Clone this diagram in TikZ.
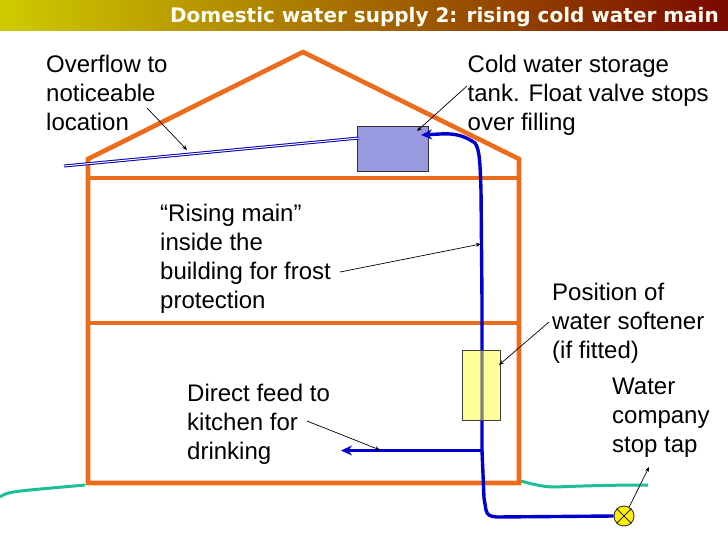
\documentclass[tikz,border=0pt]{standalone}
\usepackage{fontspec}
\setmainfont{Liberation Sans}
\newfontfamily\titlefont{DejaVu Sans}
\usetikzlibrary{arrows.meta}
\definecolor{wall}{RGB}{236,108,28}
\definecolor{pipe}{RGB}{0,0,204}
\definecolor{soil}{RGB}{30,190,155}
\definecolor{tankfill}{RGB}{153,153,224}
\tikzset{
  x=1pt,y=-1pt,
  lbl/.style={font=\fontsize{24}{29}\selectfont,align=left,inner sep=0pt,anchor=base west,text=black},
  wallline/.style={draw=wall,line width=4.6pt,line join=miter},
  pipeline/.style={draw=pipe,line width=3.4pt,line join=round},
  soilline/.style={draw=soil,line width=3pt},
  pointer/.style={draw=black,line width=0.7pt,-{Stealth[length=5pt,width=4pt]}},
  feedtip/.style={-{Stealth[length=11pt,width=10pt]}}
}
\begin{document}
\begin{tikzpicture}
\useasboundingbox (0,0) rectangle (728,546);
% title bar
\shade[left color={rgb,255:red,206;green,203;blue,0},middle color={rgb,255:red,168;green,145;blue,0},right color={rgb,255:red,122;green,8;blue,0}] (0,0) rectangle (728,30);
\node[font=\titlefont\bfseries\fontsize{20}{24}\selectfont,text=white!95!yellow,anchor=base east,inner sep=0pt] (title) at (719,23) {Domestic water supply 2: rising cold water main};
% ground
\coordinate (gl0) at (0,497); \coordinate (gl1) at (85,485);
\coordinate (gr0) at (521,481); \coordinate (gr1) at (648,485);
\draw[soilline] (gl0) .. controls (7,491) and (20,491) .. (gl1);
\draw[soilline] (gr0) .. controls (535,485) and (545,487) .. (555,487) .. controls (580,486) and (610,485) .. (gr1);
% house
\coordinate (eaveL) at (88,159); \coordinate (ridge) at (303,52); \coordinate (eaveR) at (519,159);
\coordinate (baseL) at (88,483); \coordinate (baseR) at (519,483);
\coordinate (f1L) at (88,178); \coordinate (f1R) at (519,178);
\coordinate (f2L) at (88,323); \coordinate (f2R) at (519,323);
\draw[wallline] (eaveL) -- (ridge) -- (eaveR) -- (baseR) -- (baseL) -- cycle;
\draw[wallline] (f1L) -- (f1R);
\draw[wallline] (f2L) -- (f2R);
% overflow
\coordinate (ofEnd) at (64,166);
\node[draw=black!80,line width=0.9pt,fill=tankfill,minimum width=71pt,minimum height=45.5pt,inner sep=0pt] (tank) at (392.5,149) {};
\coordinate (ofTank) at (359,138);
\draw[draw=pipe!85!black,line width=3pt] (ofEnd) -- (ofTank);
\draw[draw=white,line width=1pt] (ofEnd) -- (ofTank);
% pipes
\node[circle,draw=black!80,fill=yellow,line width=0.9pt,minimum size=20pt,inner sep=0pt] (tap) at (624,516) {};
\draw[draw=black!85,line width=0.9pt] (tap.45) -- (tap.225) (tap.135) -- (tap.315);
\coordinate (branch) at (482,450.5);
\coordinate (feedEnd) at (341,450.5);
\coordinate (tankIn) at (421,135);
\draw[pipeline,feedtip] (tap.west) -- (497,517) .. controls (490,516.5) and (487,515) .. (486,510) -- (484,498) -- (branch) -- (482,300) -- (481,190) .. controls (480,165) and (480,150) .. (475,143) .. controls (465,136) and (455,133) .. (440,134) -- (tankIn);
\draw[pipeline,line width=2.8pt,feedtip] (branch) -- (feedEnd);
% softener
\node[draw=black!75,line width=0.9pt,fill={rgb,255:red,255;green,255;blue,51},fill opacity=.5,minimum width=38pt,minimum height=70pt,inner sep=0pt] (soft) at (481,385) {};
% labels
\node[lbl] (l1) at (46,130) {Overflow to\\noticeable\\location};
\node[lbl] (l2) at (467.5,130) {Cold water storage\\tank. Float valve stops\\over filling};
\node[lbl] (l3) at (160,308) {“Rising main”\\inside the\\building for frost\\protection};
\node[lbl] (l4) at (552,358) {Position of\\water softener\\(if fitted)};
\node[lbl] (l5) at (187,459) {Direct feed to\\kitchen for\\drinking};
\node[lbl] (l6) at (612,452.5) {Water\\company\\stop tap};
% pointers
\coordinate (p1a) at (147,108); \coordinate (p1b) at (187,150);
\coordinate (p2a) at (467,86);  \coordinate (p2b) at (417,131);
\coordinate (p3a) at (340,272); \coordinate (p3b) at (481,244);
\coordinate (p4a) at (549,322); \coordinate (p4b) at (499,365);
\coordinate (p5a) at (307,421); \coordinate (p5b) at (380,450);
\coordinate (p6b) at (649,467);
\draw[pointer] (p1a) -- (p1b);
\draw[pointer] (p2a) -- (p2b);
\draw[pointer] (p3a) -- (p3b);
\draw[pointer] (p4a) -- (p4b);
\draw[pointer] (p5a) -- (p5b);
\draw[pointer] (tap.60) -- (p6b);
\end{tikzpicture}
\end{document}
